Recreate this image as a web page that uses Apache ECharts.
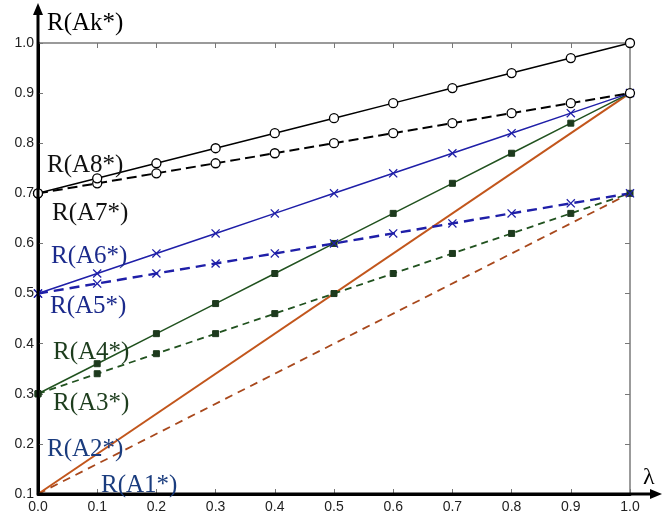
<!DOCTYPE html>
<html>
<head>
<meta charset="utf-8">
<script src="https://cdn.jsdelivr.net/npm/echarts@6/dist/echarts.min.js"></script>
<style>html,body{margin:0;padding:0;background:#fff}#c{width:662px;height:520px}</style>
</head>
<body>
<div id="c"></div>
<script>
const lambda = [0.0, 0.1, 0.2, 0.3, 0.4, 0.5, 0.6, 0.7, 0.8, 0.9, 1.0];
const A8 = [0.70, 0.73, 0.76, 0.79, 0.82, 0.85, 0.88, 0.91, 0.94, 0.97, 1.00];
const A7 = [0.70, 0.72, 0.74, 0.76, 0.78, 0.80, 0.82, 0.84, 0.86, 0.88, 0.90];
const A6 = [0.50, 0.54, 0.58, 0.62, 0.66, 0.70, 0.74, 0.78, 0.82, 0.86, 0.90];
const A5 = [0.50, 0.52, 0.54, 0.56, 0.58, 0.60, 0.62, 0.64, 0.66, 0.68, 0.70];
const A4 = [0.30, 0.36, 0.42, 0.48, 0.54, 0.60, 0.66, 0.72, 0.78, 0.84, 0.90];
const A3 = [0.30, 0.34, 0.38, 0.42, 0.46, 0.50, 0.54, 0.58, 0.62, 0.66, 0.70];
const A2 = [0.10, 0.90];
const A2x = [0.0, 1.0];
const A1 = [0.10, 0.70];
const A1x = [0.0, 1.0];
const seriesNames = ['R(A8*)','R(A7*)','R(A6*)','R(A5*)','R(A4*)','R(A3*)','R(A2*)','R(A1*)'];
const yTitle = 'R(Ak*)';
const xTitle = 'λ';

const BLACK = '#000000', BLUE = '#1f1fa8', GREEN = '#21521f', ORANGE = '#c2561c', ORANGE_D = '#a8481c';
const crossPath = 'path://M1,0L5,4L9,0L10,1L6,5L10,9L9,10L5,6L1,10L0,9L4,5L0,1Z';
function pairs(xs, ys){ return xs.map((x,i)=>[x, ys[i]]); }

const chart = echarts.init(document.getElementById('c'), null, {renderer:'canvas'});
const tickStyle = {show:true, inside:true, length:5, lineStyle:{color:'#777', width:1}};
const option = {
  animation:false,
  backgroundColor:'#fff',
  grid:{left:38, right:32, top:43, bottom:26, containLabel:false},
  xAxis:[
    {type:'value', position:'bottom', min:0, max:1, interval:0.1,
     axisLine:{show:true, onZero:false, lineStyle:{color:'#000', width:3}},
     axisTick:tickStyle, splitLine:{show:false},
     axisLabel:{margin:6, color:'#222', fontSize:14, fontFamily:'Liberation Sans', formatter:v=>v.toFixed(1)}},
    {type:'value', position:'top', min:0, max:1, interval:0.1,
     axisLine:{show:true, onZero:false, lineStyle:{color:'#7a7a7a', width:1.5}},
     axisTick:tickStyle, axisLabel:{show:false}, splitLine:{show:false}}
  ],
  yAxis:[
    {type:'value', position:'left', min:0.1, max:1.0, interval:0.1,
     axisLine:{show:true, onZero:false, lineStyle:{color:'#000', width:3}},
     axisTick:tickStyle, splitLine:{show:false},
     axisLabel:{margin:4, color:'#222', fontSize:14, fontFamily:'Liberation Sans', formatter:v=>v.toFixed(1)}},
    {type:'value', position:'right', min:0.1, max:1.0, interval:0.1,
     axisLine:{show:true, onZero:false, lineStyle:{color:'#7a7a7a', width:1.5}},
     axisTick:tickStyle, axisLabel:{show:false}, splitLine:{show:false}}
  ],
  series:[
    {name:seriesNames[7], type:'line', data:pairs(A1x,A1), showSymbol:false, symbol:'none',
     lineStyle:{color:ORANGE_D, width:1.8, type:[8,6]}},
    {name:seriesNames[6], type:'line', data:pairs(A2x,A2), showSymbol:false, symbol:'none',
     lineStyle:{color:ORANGE, width:2}},
    {name:seriesNames[5], type:'line', data:pairs(lambda,A3), symbol:'rect', symbolSize:6,
     lineStyle:{color:GREEN, width:1.8, type:[7,5]}, itemStyle:{color:'#1d3a1d', borderColor:'#1d3a1d'}},
    {name:seriesNames[4], type:'line', data:pairs(lambda,A4), symbol:'rect', symbolSize:6,
     lineStyle:{color:GREEN, width:1.5}, itemStyle:{color:'#1d3a1d', borderColor:'#1d3a1d'}},
    {name:seriesNames[3], type:'line', data:pairs(lambda,A5), symbol:crossPath, symbolSize:9,
     lineStyle:{color:BLUE, width:2.4, type:[10,6]}, itemStyle:{color:BLUE}},
    {name:seriesNames[2], type:'line', data:pairs(lambda,A6), symbol:crossPath, symbolSize:9,
     lineStyle:{color:BLUE, width:1.5}, itemStyle:{color:BLUE}},
    {name:seriesNames[1], type:'line', data:pairs(lambda,A7), symbol:'circle', symbolSize:9,
     lineStyle:{color:BLACK, width:2, type:[10,5]}, itemStyle:{color:'#fff', borderColor:'#000', borderWidth:1.3}},
    {name:seriesNames[0], type:'line', data:pairs(lambda,A8), symbol:'circle', symbolSize:9,
     lineStyle:{color:BLACK, width:1.5}, itemStyle:{color:'#fff', borderColor:'#000', borderWidth:1.3}}
  ]
};
chart.setOption(option);

// decorations: axis arrows, titles, series labels
const o = chart.convertToPixel({xAxisIndex:0, yAxisIndex:0}, [0, 0.1]);
const serif = 'Liberation Serif';
const labelColors = ['#111','#111','#1b2a8c','#1b2a8c','#1d3d1d','#1d3d1d','#1a3c7e','#1a3c7e'];
const labelPos = [[47,165],[52,213],[51,256],[50,306],[53,352],[53,403],[47,449],[101,485]];
const graphics = [
  {type:'line', shape:{x1:o[0], y1:o[1], x2:o[0], y2:10}, style:{stroke:'#000', lineWidth:3}, z:100},
  {type:'polygon', shape:{points:[[o[0],3],[o[0]-5,15],[o[0]+5,15]]}, style:{fill:'#000'}, z:100},
  {type:'line', shape:{x1:o[0], y1:o[1], x2:654, y2:o[1]}, style:{stroke:'#000', lineWidth:3}, z:100},
  {type:'polygon', shape:{points:[[662,o[1]],[650,o[1]-5],[650,o[1]+5]]}, style:{fill:'#000'}, z:100},
  {type:'text', x:47, y:23, style:{text:yTitle, font:'25px '+serif, fill:'#000', verticalAlign:'middle'}, z:100},
  {type:'text', x:643, y:478, style:{text:xTitle, font:'24px '+serif, fill:'#000', verticalAlign:'middle'}, z:100}
];
seriesNames.forEach((n,i)=>{
  graphics.push({type:'text', x:labelPos[i][0], y:labelPos[i][1],
    style:{text:n, font:'25px '+serif, fill:labelColors[i], verticalAlign:'middle'}, z:100});
});
chart.setOption({graphic:graphics});
</script>
</body>
</html>
